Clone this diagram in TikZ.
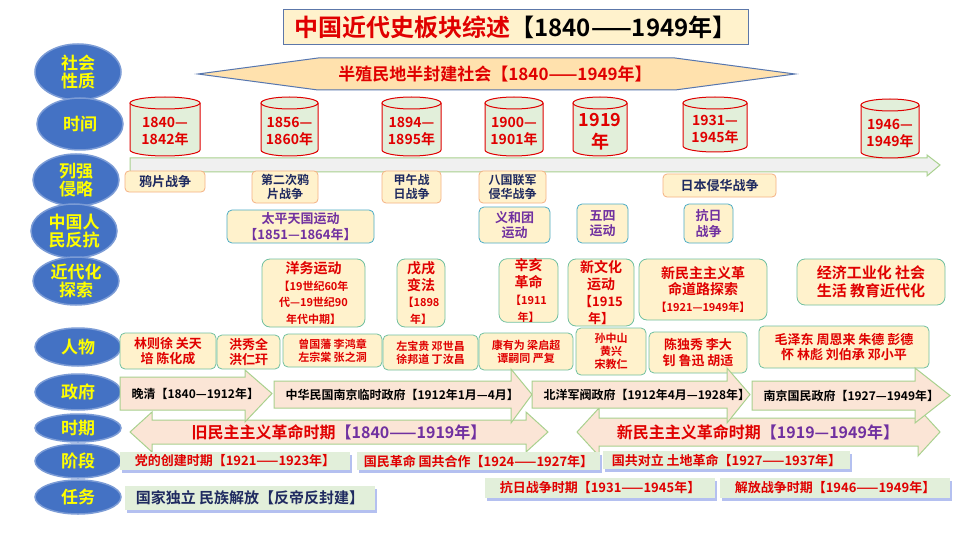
\documentclass[tikz,border=0pt]{standalone}
\usepackage{fontspec}
\setmainfont{Noto Sans CJK SC Bold}
\usetikzlibrary{shapes.geometric}
\definecolor{ebl}{HTML}{4472C4}
\definecolor{ylw}{HTML}{FFFF00}
\definecolor{rd}{HTML}{E00000}
\definecolor{nv}{HTML}{1F2A60}
\definecolor{pu}{HTML}{7030A0}
\definecolor{bf}{HTML}{FFF2CC}
\definecolor{ob}{HTML}{F4B183}
\definecolor{cb}{HTML}{4BACC6}
\definecolor{tb}{HTML}{70C0A0}
\definecolor{pf}{HTML}{FBE5D6}
\definecolor{gb}{HTML}{A9D18E}
\definecolor{barf}{HTML}{E2EFDA}
\definecolor{shb}{HTML}{B4C0F0}
\newcommand\fs[1]{\fontsize{#1}{1.2\dimexpr#1pt\relax}\selectfont}
\newcommand\bx[7]{\node[#6, minimum width={(#4-#2)*1pt}, minimum height={(#5-#3)*1pt}, inner sep=0pt, align=center] (#1) at ({(#2+#4)/2},{(#3+#5)/2}) {#7};}
\newcommand\cyl[6]{%
 \draw[draw=rd, fill=barf, line width=1pt] (#2,#3+6) -- (#2,#5-6) arc[start angle=180,end angle=0,x radius={(#4-#2)/2},y radius=6] -- (#4,#3+6);
 \draw[draw=rd, fill=barf, line width=1pt] ({(#2+#4)/2},#3+6) ellipse [x radius={(#4-#2)/2},y radius=6];
 \coordinate (#1) at ({(#2+#4)/2},{(#3+#5)/2+5});}
\tikzset{
 elab/.style={ellipse, fill=ebl, draw=ebl!70!white, line width=1.5pt, text=ylw, align=center, font=\fs{17}, inner sep=0pt, minimum width=86pt},
 lq/.style={draw=ob, fill=bf, rounded corners=4pt, text=nv, font=\fs{13}, line width=0.8pt},
 fk/.style={draw=cb, fill=bf, rounded corners=5pt, text=pu, font=\fs{13}, line width=0.8pt},
 jd/.style={draw=tb, fill=bf, rounded corners=8pt, text=rd, font=\fs{14}, line width=0.8pt},
 rw/.style={draw=tb, fill=bf, rounded corners=5pt, text=rd, font=\fs{13}, line width=0.8pt},
 zf/.style={draw=gb, fill=pf, line width=1pt},
 bar/.style={fill=barf, text=rd, font=\fs{13}},
 cyt/.style={text=rd, align=center, font=\fs{14}},
}
\newcommand\arr[8]{\draw[zf] (#1,#4) -- (#2,#4) -- (#2,#6) -- (#3,{(#4+#5)/2}) -- (#2,#7) -- (#2,#5) -- (#1,#5) -- cycle;
 \node[anchor=west, font=\fs{12}, text=black] at (#1+8,{(#4+#5)/2}) {#8};}
\newcommand\darr[6]{\draw[zf] (#1,{(#3+#4)/2}) -- (#1+22,#5) -- (#1+22,#3) -- (#2-22,#3) -- (#2-22,#5) -- (#2,{(#3+#4)/2}) -- (#2-22,#6) -- (#2-22,#4) -- (#1+22,#4) -- (#1+22,#6) -- cycle;}
\newcommand\sbar[6]{\fill[shb] (#2+2,#3+3) rectangle (#4+2,#5+3);
 \bx{#1}{#2}{#3}{#4}{#5}{bar}{#6}}
\begin{document}
\begin{tikzpicture}[x=1pt,y=-1pt]
\useasboundingbox (0,0) rectangle (960,540);
\fill[white] (0,0) rectangle (960,540);
% title
\bx{title}{283}{10}{748}{45}{draw=ebl!60!gray, fill=bf, line width=1pt, font=\fs{24}}{\textcolor{rd}{中国近代史板块综述}【1840——1949年】}
% hexagon
\draw[draw=ebl!70!gray, fill=bf!85!orange, line width=1pt] (198,74) -- (318,58) -- (675,58) -- (795,74) -- (675,90) -- (318,90) -- cycle;
\node[text=rd, font=\fs{17}] (soc) at (495,74) {半殖民地半封建社会【1840——1949年】};
% left labels
\node[elab, minimum height=56pt] (e1) at (78,72) {社会\\[-3pt]性质};
\node[elab, minimum height=52pt] (e2) at (80,124) {时间};
\node[elab, minimum height=52pt] (e3) at (76,180) {列强\\[-3pt]侵略};
\node[elab, minimum height=54pt] (e4) at (74,231) {中国人\\[-3pt]民反抗};
\node[elab, minimum height=48pt] (e5) at (76,281) {近代化\\[-3pt]探索};
\node[elab, minimum height=38pt] (e6) at (78,347) {人物};
\node[elab, minimum height=36pt] (e7) at (78,392) {政府};
\node[elab, minimum height=28pt] (e8) at (78,428) {时期};
\node[elab, minimum height=34pt] (e9) at (78,461) {阶段};
\node[elab, minimum height=34pt] (e10) at (78,497) {任务};
% timeline
\draw[draw=gb, fill=gray!12, line width=1pt] (130,158) -- (927,158) -- (927,155) -- (940,165) -- (927,176) -- (927,172) -- (130,172) -- cycle;
% cylinders
\cyl{c1}{130}{97}{200}{156}{14}\node[cyt] (t1) at (c1) {1840—\\1842年};
\cyl{c2}{261}{97}{318}{156}{14}\node[cyt] (t2) at (c2) {1856—\\1860年};
\cyl{c3}{382}{97}{441}{156}{14}\node[cyt] (t3) at (c3) {1894—\\1895年};
\cyl{c4}{485}{97}{543}{156}{14}\node[cyt] (t4) at (c4) {1900—\\1901年};
\cyl{c5}{573}{97}{627}{156}{18}\node[cyt, font=\fs{18}] (t5) at (c5) {1919\\年};
\cyl{c6}{683}{97}{747}{152}{14}\node[cyt] (t6) at (c6) {1931—\\1945年};
\cyl{c7}{861}{99}{919}{158}{14}\node[cyt] (t7) at (c7) {1946—\\1949年};
% invasions
\bx{l1}{125}{171}{205}{192}{lq}{鸦片战争}
\bx{l2}{252}{171}{318}{203}{lq, font=\fs{12}}{第二次鸦\\片战争}
\bx{l3}{382}{171}{441}{203}{lq, font=\fs{12}}{甲午战\\日战争}
\bx{l4}{479}{171}{546}{203}{lq, font=\fs{12}}{八国联军\\侵华战争}
\bx{l5}{663}{174}{776}{197}{lq}{日本侵华战争}
% resistance
\bx{f1}{227}{210}{374}{243}{fk}{太平天国运动\\【1851—1864年】}
\bx{f2}{479}{207}{550}{243}{fk}{义和团\\运动}
\bx{f3}{577}{204}{628}{243}{fk}{五四\\运动}
\bx{f4}{684}{204}{733}{243}{fk}{抗日\\战争}
% modernization
\bx{j1}{262}{259}{365}{327}{jd}{洋务运动\\{\fs{11}【19世纪60年}\\{\fs{11}代—19世纪90}\\{\fs{11}年代中期】}}
\bx{j2}{397}{259}{445}{327}{jd}{戊戌\\变法\\{\fs{11}【1898}\\{\fs{11}年】}}
\bx{j3}{499}{259}{558}{322}{jd}{辛亥\\革命\\{\fs{11}【1911}\\{\fs{11}年】}}
\bx{j4}{568}{259}{634}{326}{jd}{新文化\\运动\\{\fs{13}【1915}\\{\fs{13}年】}}
\bx{j5}{639}{259}{767}{320}{jd}{新民主主义革\\命道路探索\\{\fs{11}【1921—1949年】}}
\bx{j6}{797}{259}{945}{305}{jd, font=\fs{15}}{经济工业化 社会\\生活 教育近代化}
% people
\bx{p1}{120}{333}{216}{369}{rw}{林则徐 关天\\培 陈化成}
\bx{p2}{217}{335}{280}{369}{rw}{洪秀全\\洪仁玕}
\bx{p3}{283}{334}{382}{367}{rw, font=\fs{11}}{曾国藩 李鸿章\\左宗棠 张之洞}
\bx{p4}{383}{335}{478}{370}{rw, font=\fs{11}}{左宝贵 邓世昌\\徐邦道 丁汝昌}
\bx{p5}{479}{333}{573}{370}{rw, font=\fs{11}}{康有为 梁启超\\谭嗣同 严复}
\bx{p6}{576}{328}{646}{375}{rw, font=\fs{11}}{孙中山\\黄兴\\宋教仁}
\bx{p7}{649}{332}{747}{373}{rw}{陈独秀 李大\\钊 鲁迅 胡适}
\bx{p8}{759}{326}{929}{368}{rw}{毛泽东 周恩来 朱德 彭德\\怀 林彪 刘伯承 邓小平}
% periods (double arrows)
\darr{130}{548}{420}{444}{412}{452}
\node[font=\fs{16}] (old) at (339,432) {\textcolor{rd}{旧民主主义革命时期}\textcolor{pu}{【1840——1919年】}};
\darr{577}{940}{418}{446}{408}{456}
\node[font=\fs{16}] (new) at (758,432) {\textcolor{rd}{新民主主义革命时期}\textcolor{pu}{【1919—1949年】}};
% governments
\arr{120}{245}{272}{377}{410}{370}{422}{晚清【1840—1912年】}
\arr{274}{511}{532}{381}{408}{369}{423}{中华民国南京临时政府【1912年1月—4月】}
\arr{532}{727}{750}{381}{408}{368}{423}{北洋军阀政府【1912年4月—1928年】}
\arr{752}{915}{950}{381}{410}{368}{423}{南京国民政府【1927—1949年】}
% stages
\sbar{s1}{120}{452}{350}{470}{党的创建时期【1921——1923年】}
\sbar{s2}{357}{452}{600}{470}{国民革命 国共合作【1924——1927年】}
\sbar{s3}{603}{451}{850}{469}{国共对立 土地革命【1927——1937年】}
\sbar{s4}{485}{478}{715}{498}{抗日战争时期【1931——1945年】}
\sbar{s5}{720}{478}{950}{498}{解放战争时期【1946——1949年】}
% task
\fill[shb] (127,489) rectangle (377,513);
\bx{task}{125}{486}{375}{510}{fill=barf, text=nv, font=\fs{15}}{国家独立 民族解放【反帝反封建】}
\end{tikzpicture}
\end{document}
